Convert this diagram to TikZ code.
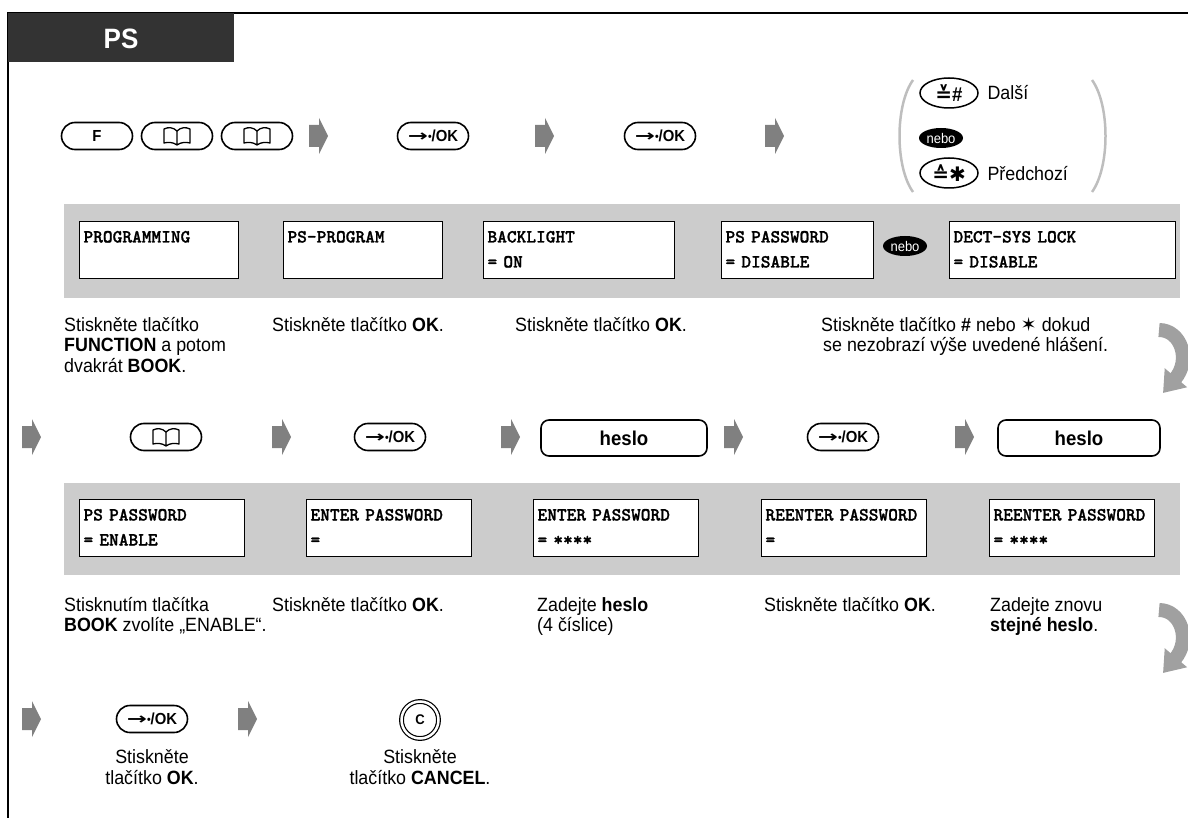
\documentclass[tikz,border=0pt]{standalone}
\usepackage{fontspec}
\setmainfont{Liberation Sans}[FakeStretch=0.93]
\newfontfamily\symfont{DejaVu Sans}
\newfontfamily\lcdfont{lmmonolt10-bold}[Extension=.otf, FakeBold=1.2]
\usetikzlibrary{arrows.meta,positioning,calc,shapes.geometric}
\definecolor{HEAD-GRAY}{RGB}{51,51,51}
\definecolor{BAND-GRAY}{RGB}{204,204,204}
\definecolor{ARROW-GRAY}{RGB}{128,128,128}
\definecolor{TURN-GRAY}{RGB}{160,160,160}
\definecolor{PAREN-GRAY}{RGB}{190,190,190}

\newcommand{\oklabel}{{\symfont\bfseries\scalebox{1.5}[1]{→}}\raisebox{0.8pt}{\scalebox{0.7}{•}}/OK}

\tikzset{
  key/.style={draw, line width=1.6pt, rounded corners=13.5pt, minimum width=71pt,
    minimum height=27pt, inner sep=0pt, font=\bfseries\fontsize{16}{16}\selectfont},
  pwkey/.style={draw, line width=1.6pt, rounded corners=8pt, minimum width=#1,
    minimum height=36pt, inner sep=0pt, font=\bfseries\fontsize{20}{20}\selectfont},
  navkey/.style={draw, ellipse, line width=1.5pt, minimum width=58pt, minimum height=30pt,
    inner sep=0pt, font=\bfseries\fontsize{20}{20}\selectfont},
  nebo/.style={fill=black, ellipse, minimum width=44pt, minimum height=20pt, inner sep=0pt,
    text=white, font=\fontsize{14}{14}\selectfont},
  lcd/.style={draw, line width=1pt, fill=white, anchor=north west, minimum height=57pt,
    inner xsep=4pt, inner ysep=0pt, text width=#1, align=left,
    font=\lcdfont\fontsize{18.5}{25}\selectfont},
  desc/.style={anchor=north west, align=left, inner sep=0pt, font=\fontsize{19.2}{20.5}\selectfont},
  under/.style={anchor=north, align=center, inner sep=0pt, font=\fontsize{19.2}{21.5}\selectfont},
  nextarrow/.pic={\fill[ARROW-GRAY] (0,-11) -- (10,-11) -- (10,-18) -- (19,0) -- (10,18) -- (10,11) -- (0,11) -- cycle;},
  bookicon/.pic={\draw[line width=1.3pt, line join=round]
    (0,-5) .. controls (-4,-9) and (-9,-9) .. (-13,-7) -- (-13,7) .. controls (-9,6) and (-4,6) .. (0,9)
    .. controls (4,6) and (9,6) .. (13,7) -- (13,-7) .. controls (9,-9) and (4,-9) .. (0,-5) -- (0,9);},
  turnarrow/.pic={\draw[TURN-GRAY, line width=14pt, -{Triangle[length=20pt,width=28pt]}]
    (0,12) .. controls (22,12) and (32,42) .. (4,75);}
}

\begin{document}
\begin{tikzpicture}[x=1pt,y=-1pt]
  \useasboundingbox (0,0) rectangle (1188,818);

  % frame and title
  \draw[line width=2.3pt] (8,818) -- (8,13) -- (1188,13);
  \fill[HEAD-GRAY] (8,13) rectangle (234,62);
  \node[white, font=\bfseries\fontsize{28}{28}\selectfont] (title) at (121,39) {PS};

  % first row of keys
  \node[key] (keyF) at (97,136) {F};
  \node[key] (bookA) at (177,136) {};
  \pic at (bookA) {bookicon};
  \node[key] (bookB) at (257,136) {};
  \pic at (bookB) {bookicon};
  \pic at (309,136) {nextarrow};
  \node[key] (okA) at (433,136) {\oklabel};
  \pic at (535,136) {nextarrow};
  \node[key] (okB) at (660,136) {\oklabel};
  \pic at (765,136) {nextarrow};

  % next / previous choice
  \draw[PAREN-GRAY, line width=2.5pt] (913,80) .. controls (895,105) and (895,167) .. (913,192);
  \draw[PAREN-GRAY, line width=2.5pt] (1092,80) .. controls (1110,105) and (1110,167) .. (1092,192);
  \node[navkey] (navNext) at (949,93) {{\symfont ≚}\#};
  \node[anchor=west, font=\fontsize{19.2}{19.2}\selectfont] (txtNext) at (984,93) {Další};
  \node[nebo] (neboA) at (941,138) {nebo};
  \node[navkey] (navPrev) at (949,173) {{\symfont ≙✱}};
  \node[anchor=west, font=\fontsize{19.2}{19.2}\selectfont] (txtPrev) at (984,174) {Předchozí};

  % first row of displays
  \fill[BAND-GRAY] (64,204) rectangle (1180,298);
  \node[lcd=151pt] (lcdA) at (79,221) {\strut PROGRAMMING\\\strut};
  \node[lcd=151pt] (lcdB) at (283,221) {\strut PS-PROGRAM\\\strut};
  \node[lcd=183pt] (lcdC) at (483,221) {\strut BACKLIGHT\\\strut = ON};
  \node[lcd=144pt] (lcdD) at (721,221) {\strut PS PASSWORD\\\strut = DISABLE};
  \node[nebo] (neboB) at (905,246) {nebo};
  \node[lcd=218pt] (lcdE) at (949,221) {\strut DECT-SYS LOCK\\\strut = DISABLE};

  % first row of steps
  \node[desc] (stepA) at (64,317) {Stiskněte tlačítko\\\textbf{FUNCTION} a potom\\dvakrát \textbf{BOOK}.};
  \node[desc] (stepB) at (272,317) {Stiskněte tlačítko \textbf{OK}.};
  \node[desc] (stepC) at (515,317) {Stiskněte tlačítko \textbf{OK}.};
  \node[desc] (stepD) at (821,317) {Stiskněte tlačítko \textbf{\#} nebo {\symfont ✶} dokud\\\hspace{2pt}se nezobrazí výše uvedené hlášení.};
  \pic at (1159,318) {turnarrow};

  % second row of keys
  \pic at (22,437) {nextarrow};
  \node[key] (bookC) at (166,437) {};
  \pic at (bookC) {bookicon};
  \pic at (272,437) {nextarrow};
  \node[key] (okC) at (390,437) {\oklabel};
  \pic at (501,437) {nextarrow};
  \node[pwkey=166pt] (pwA) at (624,438) {heslo};
  \pic at (724,437) {nextarrow};
  \node[key] (okD) at (843,437) {\oklabel};
  \pic at (955,437) {nextarrow};
  \node[pwkey=162pt] (pwB) at (1079,438) {heslo};

  % second row of displays
  \fill[BAND-GRAY] (64,483) rectangle (1180,575);
  \node[lcd=157pt] (lcdF) at (79,499) {\strut PS PASSWORD\\\strut = ENABLE};
  \node[lcd=157pt] (lcdG) at (306,499) {\strut ENTER PASSWORD\\\strut =};
  \node[lcd=157pt] (lcdH) at (533,499) {\strut ENTER PASSWORD\\\strut = ****};
  \node[lcd=157pt] (lcdI) at (761,499) {\strut REENTER PASSWORD\\\strut =};
  \node[lcd=157pt] (lcdJ) at (989,499) {\strut REENTER PASSWORD\\\strut = ****};

  % second row of steps
  \node[desc] (stepE) at (64,597) {Stisknutím tlačítka\\\textbf{BOOK} zvolíte „ENABLE“.};
  \node[desc] (stepF) at (272,597) {Stiskněte tlačítko \textbf{OK}.};
  \node[desc] (stepG) at (537,597) {Zadejte \textbf{heslo}\\(4 číslice)};
  \node[desc] (stepH) at (764,597) {Stiskněte tlačítko \textbf{OK}.};
  \node[desc] (stepI) at (990,597) {Zadejte znovu\\\textbf{stejné heslo}.};
  \pic at (1159,598) {turnarrow};

  % last row
  \pic at (22,719) {nextarrow};
  \node[key] (okE) at (152,719) {\oklabel};
  \pic at (238,719) {nextarrow};
  \node[circle, draw, line width=1.2pt, double, double distance=2.5pt, minimum size=37pt,
    inner sep=0pt, font=\bfseries\fontsize{14}{14}\selectfont] (keyC) at (420,720) {C};
  \node[under] (stepJ) at (152,749) {Stiskněte\\tlačítko \textbf{OK}.};
  \node[under] (stepK) at (420,749) {Stiskněte\\tlačítko \textbf{CANCEL}.};
\end{tikzpicture}
\end{document}
